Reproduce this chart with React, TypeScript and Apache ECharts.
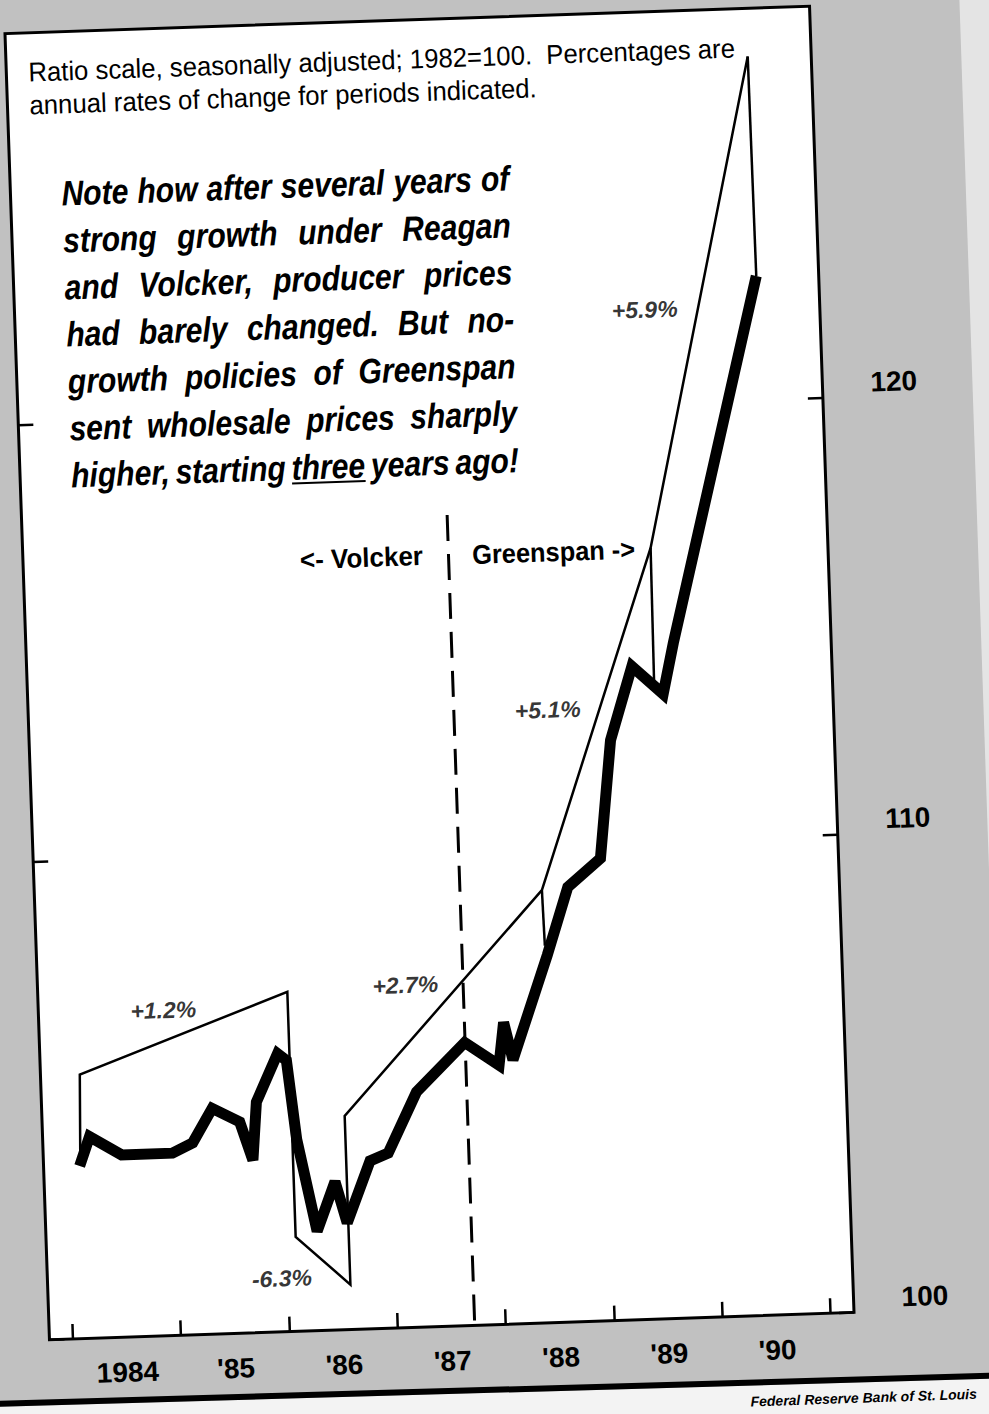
import React, { useEffect, useRef } from "react";
import * as echarts from "echarts";

// ---------------- data ----------------
// Producer prices (1982 = 100), heavy line
const ppiDates = [1984.12, 1984.22, 1984.51, 1984.98, 1985.17, 1985.36, 1985.61, 1985.72, 1985.77, 1985.98, 1986.06, 1986.13, 1986.29, 1986.47, 1986.57, 1986.8, 1986.97, 1987.25, 1987.71, 1988.02, 1988.075, 1988.15, 1988.5, 1988.71, 1989.02, 1989.15, 1989.37, 1989.65, 1989.76, 1990.64];
const ppiValues = [103.5, 104.1, 103.7, 103.7, 103.9, 104.6, 104.3, 103.5, 104.7, 105.7, 105.55, 103.9, 102.0, 103.0, 102.15, 103.4, 103.55, 104.8, 105.8, 105.3, 106.2, 105.4, 107.6, 109.05, 109.65, 112.25, 113.9, 113.25, 114.4, 123.0];

// Trend segments (thin line), connected by verticals
const trendDates = [1984.13, 1984.15, 1986.09, 1986.09, 1986.58, 1986.58, 1988.47, 1989.58, 1990.63];
const trendValues = [103.8, 105.4, 107.0, 101.9, 100.9, 104.35, 109.0, 116.6, 128.5];

// Short drops from trend ends down to the actual index
const spurTopDates = [1988.47, 1989.58, 1990.63];
const spurTopValues = [109.0, 116.6, 128.5];
const spurBottomDates = [1988.48, 1989.57, 1990.64];
const spurBottomValues = [107.8, 113.5, 123.0];

// Annual-rate labels
const rateLabelTexts = ["+1.2%", "-6.3%", "+2.7%", "+5.1%", "+5.9%"];
const rateLabelDates = [1984.94, 1985.95, 1987.18, 1988.58, 1989.6];
const rateLabelValues = [106.7, 101.07, 107.06, 112.98, 122.27];

// Axes
const yearTicks = [1984, 1985, 1986, 1987, 1988, 1989, 1990, 1991];
const yearLabelPositions = [1984.5, 1985.5, 1986.5, 1987.5, 1988.5, 1989.5, 1990.5];
const yearLabels = ["1984", "'85", "'86", "'87", "'88", "'89", "'90"];
const valueTicks = [100, 110, 120];
const xMin = 1983.787;
const xMax = 1991.216;
const yMin = 100;
const yMax = 129.74;

// Volcker / Greenspan divider
const greenspanStart = 1987.71;
const dividerTopValue = 117.53;

// Texts
const ratioLines = [
  "Ratio scale, seasonally adjusted; 1982=100.  Percentages are",
  "annual rates of change for periods indicated.",
];
const noteLines = [
  "Note how after several years of",
  "strong growth under Reagan",
  "and Volcker, producer prices",
  "had barely changed.  But no-",
  "growth policies of Greenspan",
  "sent wholesale prices sharply",
  "higher, starting three years ago!",
];
const volckerText = "<- Volcker";
const greenspanText = "Greenspan ->";
const sourceText = "Federal Reserve Bank of St. Louis";

// ---------------- layout ----------------
const OFF = 40;
const ROT = 1.95;
const GRAY = "#c1c1c1";
const FONT = '"Liberation Sans", Arial, Helvetica, sans-serif';

const L = (v: number) => Math.log(v);

let measureCtx: CanvasRenderingContext2D | null = null;
function measure(text: string, font: string): number {
  if (!measureCtx) measureCtx = document.createElement("canvas").getContext("2d");
  measureCtx!.font = font;
  return measureCtx!.measureText(text).width;
}

function txt(x: number, y: number, text: string, font: string, scaleX: number, align = "left") {
  return {
    type: "text",
    x: x + OFF,
    y: y + OFF,
    scaleX,
    silent: true,
    z: 10,
    style: {
      text,
      font,
      fill: "#000",
      textAlign: align,
      align,
      textVerticalAlign: "middle",
      verticalAlign: "middle",
    },
  };
}

function buildGraphics() {
  const g: any[] = [];

  // lighter paper strip at right, white band at bottom and heavy rule
  g.push({ type: "rect", silent: true, z: 1, shape: { x: 982 + OFF, y: -100, width: 200, height: 1490 + OFF }, style: { fill: "#e4e4e4" } });
  g.push({ type: "polygon", silent: true, z: 1, shape: { points: [[-100, 1391 + OFF], [1100, 1398 + OFF], [1100, 1600], [-100, 1600]] }, style: { fill: "#f3f3f3" } });
  g.push({ type: "line", silent: true, z: 2, shape: { x1: -100, y1: 1388 + OFF, x2: 1100, y2: 1395 + OFF }, style: { stroke: "#000", lineWidth: 6 } });

  // header note
  const ratioFont = `27px ${FONT}`;
  const ratioScale = 707 / measure(ratioLines[0], ratioFont);
  g.push(txt(49, 59, ratioLines[0], ratioFont, ratioScale));
  g.push(txt(49, 92, ratioLines[1], ratioFont, ratioScale));

  // justified italic commentary
  const noteFont = `italic bold 35px ${FONT}`;
  const noteScale = 0.86;
  const noteLeft = 78;
  const noteWidth = 448;
  const noteTop = 181;
  const noteStep = 47;
  noteLines.forEach((line, i) => {
    const words = line.split(/\s+/).filter((w) => w.length > 0);
    const widths = words.map((w) => measure(w, noteFont) * noteScale);
    const total = widths.reduce((a, b) => a + b, 0);
    const gap = (noteWidth - total) / (words.length - 1);
    const y = noteTop + i * noteStep;
    let x = noteLeft;
    words.forEach((w, j) => {
      g.push(txt(x, y, w, noteFont, noteScale));
      if (w === "three") {
        g.push({ type: "line", silent: true, z: 10, shape: { x1: x + OFF, y1: y + 16 + OFF, x2: x + widths[j] + OFF, y2: y + 16 + OFF }, style: { stroke: "#000", lineWidth: 2 } });
      }
      x += widths[j] + gap;
    });
  });

  // Volcker / Greenspan
  const vgFont = `bold 27px ${FONT}`;
  g.push(txt(365.4, 555.7, volckerText, vgFont, 123 / measure(volckerText, vgFont), "center"));
  g.push(txt(557.6, 556.2, greenspanText, vgFont, 163 / measure(greenspanText, vgFont), "center"));

  // source line, kept fully inside the page
  const srcFont = `italic bold 14px ${FONT}`;
  g.push(txt(952, 1412, sourceText, srcFont, 1, "right"));

  return g;
}

function buildOption() {
  const tickStyle = { color: "#000", width: 2.5 };
  const labelFont = { color: "#000", fontWeight: "bold", fontSize: 28, fontFamily: FONT };

  const series: any[] = [];

  series.push({
    type: "line",
    name: "trend",
    silent: true,
    symbol: "none",
    z: 3,
    data: trendDates.map((d, i) => [d, L(trendValues[i])]),
    lineStyle: { color: "#000", width: 2.5, join: "miter" },
  });

  spurTopDates.forEach((d, i) => {
    series.push({
      type: "line",
      silent: true,
      symbol: "none",
      z: 3,
      data: [
        [d, L(spurTopValues[i])],
        [spurBottomDates[i], L(spurBottomValues[i])],
      ],
      lineStyle: { color: "#000", width: 2.5 },
    });
  });

  series.push({
    type: "line",
    name: "Producer prices",
    silent: true,
    symbol: "none",
    z: 4,
    data: ppiDates.map((d, i) => [d, L(ppiValues[i])]),
    lineStyle: { color: "#000", width: 11, join: "miter", miterLimit: 2.6 },
    markLine: {
      silent: true,
      symbol: ["none", "none"],
      label: { show: false },
      lineStyle: { color: "#000", width: 3, type: [26, 13] },
      data: [[{ coord: [greenspanStart, L(dividerTopValue)] }, { coord: [greenspanStart, L(yMin)] }]],
    },
  });

  series.push({
    type: "scatter",
    silent: true,
    symbolSize: 0,
    z: 6,
    data: rateLabelDates.map((d, i) => ({ value: [d, L(rateLabelValues[i])], name: rateLabelTexts[i] })),
    label: {
      show: true,
      position: "inside",
      formatter: "{b}",
      color: "#000",
      fontStyle: "italic",
      fontWeight: "bold",
      fontSize: 23,
      fontFamily: FONT,
    },
  });

  const yCommon = {
    type: "value",
    min: L(yMin),
    max: L(yMax),
    axisLine: { show: false },
    splitLine: { show: false },
    axisTick: { show: true, inside: true, length: 15, lineStyle: tickStyle, customValues: valueTicks.map(L) },
  };

  return {
    animation: false,
    backgroundColor: "transparent",
    grid: {
      left: 27 + OFF,
      top: 19.5 + OFF,
      width: 805,
      height: 1307,
      show: true,
      backgroundColor: "#ffffff",
      borderColor: "#000",
      borderWidth: 3,
    },
    xAxis: {
      type: "value",
      min: xMin,
      max: xMax,
      axisLine: { show: false },
      splitLine: { show: false },
      axisTick: { show: true, inside: true, length: 15, lineStyle: tickStyle, customValues: yearTicks },
      axisLabel: {
        ...labelFont,
        margin: 21,
        customValues: yearLabelPositions,
        formatter: (v: number) => yearLabels[Math.round(v - 1984.5)] ?? "",
      },
    },
    yAxis: [
      { ...yCommon, position: "left", axisLabel: { show: false } },
      {
        ...yCommon,
        position: "right",
        axisLabel: {
          ...labelFont,
          margin: 48,
          align: "left",
          verticalAlign: "bottom",
          customValues: valueTicks.map(L),
          formatter: (v: number) => String(Math.round(Math.exp(v))),
        },
      },
    ],
    graphic: { elements: buildGraphics() },
    series,
  };
}

export default function App() {
  const ref = useRef<HTMLDivElement>(null);
  useEffect(() => {
    const el = ref.current;
    if (!el) return;
    const chart = echarts.init(el, null, { renderer: "svg" });
    chart.setOption(buildOption() as any);
    return () => chart.dispose();
  }, []);
  return (
    <div style={{ position: "absolute", left: 0, top: 0, width: 989, height: 1414, overflow: "hidden", background: GRAY }}>
      <div
        ref={ref}
        style={{
          position: "absolute",
          left: -OFF,
          top: -OFF,
          width: 989 + 2 * OFF,
          height: 1414 + 2 * OFF,
          transform: `rotate(${-ROT}deg)`,
          transformOrigin: `${429.5 + OFF}px ${673 + OFF}px`,
        }}
      />
    </div>
  );
}
